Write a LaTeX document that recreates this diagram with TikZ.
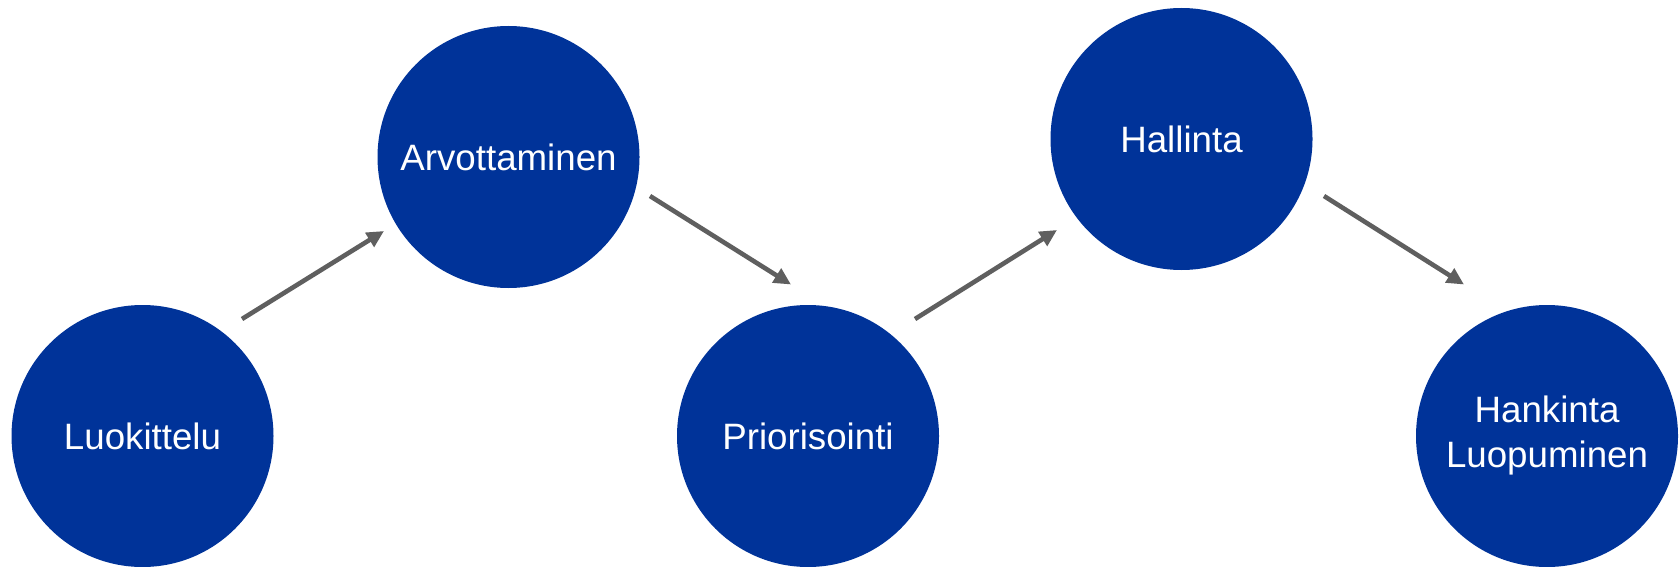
\documentclass[tikz,border=0pt]{standalone}
\usepackage{fontspec}
\setmainfont{Liberation Sans}
\usetikzlibrary{arrows.meta}
\definecolor{stageblue}{RGB}{0,51,153}
\definecolor{flowgray}{RGB}{95,95,95}
\begin{document}
\begin{tikzpicture}[x=1pt,y=-1pt,
  stage/.style={circle,fill=stageblue,draw=none,minimum size=262pt,inner sep=0pt,
    text=white,align=center,font=\fontsize{36.7}{45}\selectfont},
  flow/.style={draw=flowgray,line width=4.6pt,
    -{Triangle[length=17pt,width=16pt]}}]
  \fill[white] (0,0) rectangle (1680,567);
  \useasboundingbox (0,0) rectangle (1680,567);

  % process stages
  \node[stage] (luok) at (142.5,436) {Luokittelu};
  \node[stage] (arvo) at (508.5,157) {Arvottaminen};
  \node[stage] (prio) at (808,436) {Priorisointi};
  \node[stage] (hall) at (1181.5,139) {Hallinta};
  \node[stage] (hank) at (1547,436) {Hankinta\\Luopuminen};

  % free arrow ends between the stages
  \coordinate (f1s) at (242,319);   \coordinate (f1e) at (384,231);
  \coordinate (f2s) at (650,196);   \coordinate (f2e) at (791,284.5);
  \coordinate (f3s) at (915,319);   \coordinate (f3e) at (1057,230);
  \coordinate (f4s) at (1324,196);  \coordinate (f4e) at (1464,284.5);

  \draw[flow] (f1s) -- (f1e);
  \draw[flow] (f2s) -- (f2e);
  \draw[flow] (f3s) -- (f3e);
  \draw[flow] (f4s) -- (f4e);
\end{tikzpicture}
\end{document}
